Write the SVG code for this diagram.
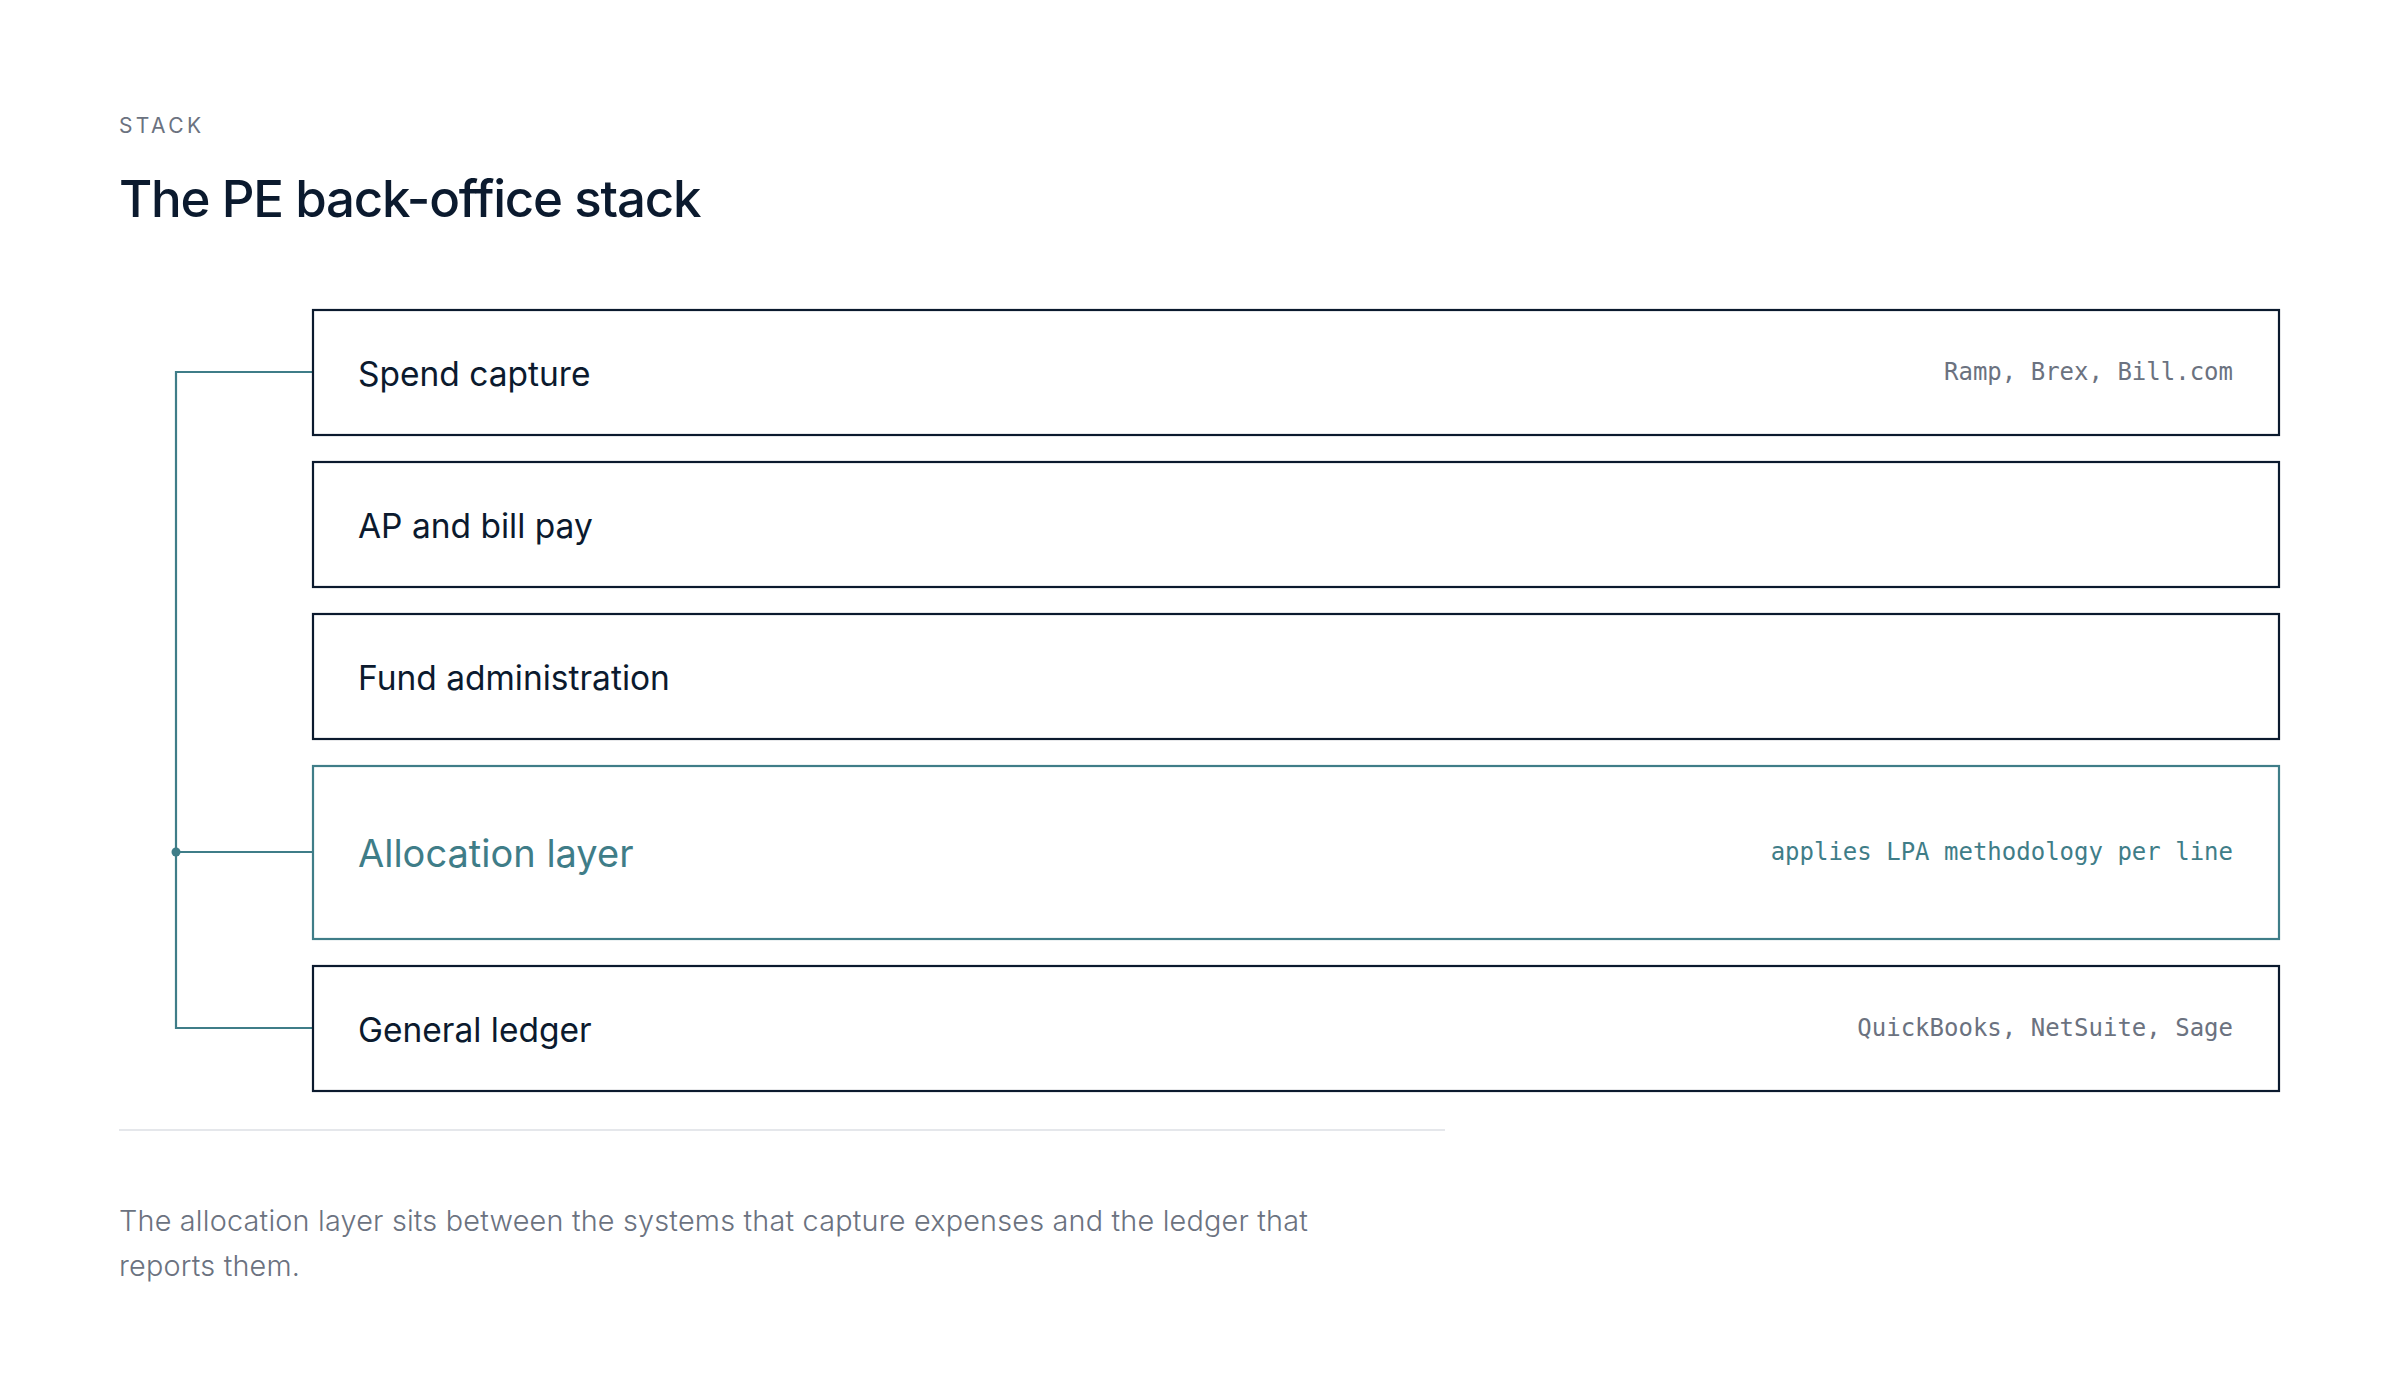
<svg xmlns="http://www.w3.org/2000/svg" width="2400" height="1400" viewBox="0 0 2400 1400">
<style>
.eyebrow{font-family:Inter,"Liberation Sans",sans-serif;font-size:21px;letter-spacing:3.4px;fill:#6b7280}
.title{font-family:Inter,"Liberation Sans",sans-serif;font-size:51px;font-weight:500;fill:#0b1a2e;letter-spacing:-1.2px}
.box{fill:#ffffff;stroke:#0b1a2e;stroke-width:2.2}
.box.hl{stroke:#3f7d88}
.label{font-family:Inter,"Liberation Sans",sans-serif;font-size:33.5px;font-weight:400;fill:#0b1a2e}
.label.hl{font-size:38px;fill:#3f7d88}
.meta{font-family:"DejaVu Sans Mono","Liberation Mono",monospace;font-size:24px;fill:#6b7280;text-anchor:end}
.meta.hl{fill:#3f7d88}
.conn{fill:none;stroke:#3f7d88;stroke-width:2.2}
.caption{font-family:Inter,"Liberation Sans",sans-serif;font-size:28.8px;font-weight:300;fill:#6b7280;letter-spacing:0.2px}
</style>
<rect width="2400" height="1400" fill="#ffffff"/>
<text class="eyebrow" x="119" y="133">STACK</text>
<text class="title" x="119" y="217">The PE back-office stack</text>

<g id="connectors">
<path class="conn" d="M312 372 H176 V1028 H312"/>
<path class="conn" d="M176 852 H312"/>
<circle cx="176" cy="852" r="4.5" fill="#3f7d88"/>
</g>

<g id="spend-capture">
<rect class="box" x="313" y="310" width="1966" height="125"/>
<text class="label" x="358" y="386">Spend capture</text>
<text class="meta" x="2233" y="380">Ramp, Brex, Bill.com</text>
</g>
<g id="ap-bill-pay">
<rect class="box" x="313" y="462" width="1966" height="125"/>
<text class="label" x="358" y="538">AP and bill pay</text>
</g>
<g id="fund-admin">
<rect class="box" x="313" y="614" width="1966" height="125"/>
<text class="label" x="358" y="690">Fund administration</text>
</g>
<g id="allocation-layer">
<rect class="box hl" x="313" y="766" width="1966" height="173"/>
<text class="label hl" x="358" y="867">Allocation layer</text>
<text class="meta hl" x="2233" y="860">applies LPA methodology per line</text>
</g>
<g id="general-ledger">
<rect class="box" x="313" y="966" width="1966" height="125"/>
<text class="label" x="358" y="1042">General ledger</text>
<text class="meta" x="2233" y="1036">QuickBooks, NetSuite, Sage</text>
</g>

<line x1="119" y1="1130" x2="1445" y2="1130" stroke="#e5e7eb" stroke-width="2"/>
<text class="caption" x="119" y="1231">The allocation layer sits between the systems that capture expenses and the ledger that</text>
<text class="caption" x="119" y="1276">reports them.</text>
</svg>
